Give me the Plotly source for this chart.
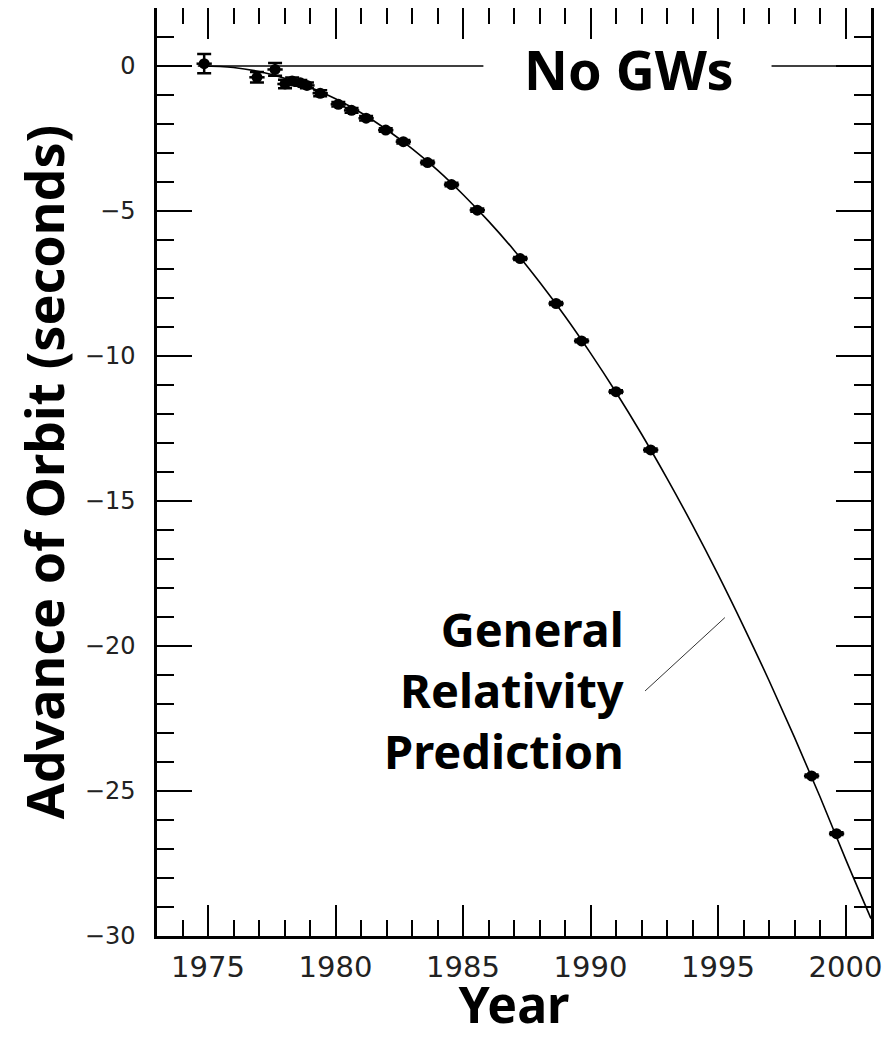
import plotly.graph_objects as go

# ---- data ----
# Observed cumulative shift of periastron time (seconds) vs year
OBS_YEAR = [1974.85, 1976.92, 1977.63, 1978.02, 1978.30, 1978.62, 1978.88, 1979.40,
            1980.11, 1980.63, 1981.20, 1981.97, 1982.66, 1983.61, 1984.55, 1985.56,
            1987.24, 1988.65, 1989.65, 1991.00, 1992.36, 1998.67, 1999.65]
OBS_SHIFT = [0.08, -0.39, -0.12, -0.62, -0.52, -0.58, -0.67, -0.94,
             -1.32, -1.53, -1.80, -2.21, -2.61, -3.33, -4.09, -4.97,
             -6.64, -8.19, -9.48, -11.23, -13.24, -24.48, -26.47]
OBS_ERR = [0.33, 0.18, 0.22, 0.15, 0.12, 0.10, 0.10, 0.10,
           0.08, 0.08, 0.08, 0.06, 0.06, 0.06, 0.06, 0.06,
           0.05, 0.05, 0.05, 0.05, 0.05, 0.05, 0.05]
OBS_XERR = [0.3] * len(OBS_YEAR)

# General Relativity prediction curve
GR_YEAR = [1974.7, 1976, 1977, 1978, 1979, 1980, 1981, 1982, 1983, 1984, 1985,
           1986, 1987, 1988, 1989, 1990, 1991, 1992, 1993, 1994, 1995, 1996,
           1997, 1998, 1999, 2000, 2001]
GR_SHIFT = [0.00, -0.05, -0.19, -0.42, -0.73, -1.13, -1.61, -2.19, -2.85, -3.59, -4.43,
            -5.35, -6.35, -7.45, -8.63, -9.90, -11.25, -12.69, -14.22, -15.83, -17.53, -19.32,
            -21.19, -23.15, -25.20, -27.34, -29.40]

# "No GWs" reference line (zero shift), interrupted by its label
NOGW_YEAR = [1974.6, 1985.8, None, 1997.1, 2001.0]
NOGW_SHIFT = [0, 0, None, 0, 0]

# pointer from the GR label to the curve
POINTER_YEAR = [1992.14, 1995.27]
POINTER_SHIFT = [-21.55, -19.02]

# label texts and their anchor positions (data units)
GR_LINES = ["General", "Relativity", "Prediction"]
GR_LABEL_YEAR = 1991.4
GR_LABEL_SHIFT = -21.52
NOGW_LABEL_YEAR = 1991.5
NOGW_LABEL_SHIFT = -0.1

X_RANGE = [1973, 2001]
Y_RANGE = [-30, 2]

TITLE_FONT = "Noto Sans"
TICK_FONT = "DejaVu Sans"

fig = go.Figure()

fig.add_trace(go.Scatter(
    x=NOGW_YEAR, y=NOGW_SHIFT, mode="lines",
    line=dict(color="black", width=1.6), hoverinfo="skip", showlegend=False))

fig.add_trace(go.Scatter(
    x=GR_YEAR, y=GR_SHIFT, mode="lines",
    line=dict(color="black", width=1.6, shape="spline"), showlegend=False))

fig.add_trace(go.Scatter(
    x=OBS_YEAR, y=OBS_SHIFT, mode="markers",
    marker=dict(color="black", size=11, symbol="circle"),
    error_y=dict(type="data", array=OBS_ERR, color="black", thickness=2.5, width=7),
    error_x=dict(type="data", array=OBS_XERR, color="black", thickness=2.5, width=0),
    showlegend=False))

fig.add_shape(type="line", xref="x", yref="y",
              x0=POINTER_YEAR[0], y0=POINTER_SHIFT[0],
              x1=POINTER_YEAR[1], y1=POINTER_SHIFT[1],
              line=dict(color="#333333", width=1))

fig.add_annotation(x=NOGW_LABEL_YEAR, y=NOGW_LABEL_SHIFT, xref="x", yref="y",
                   text="<b>No GWs</b>",
                   showarrow=False, xanchor="center", yanchor="middle",
                   font=dict(family=TITLE_FONT, size=54, color="black"))

fig.add_annotation(x=GR_LABEL_YEAR, y=GR_LABEL_SHIFT, xref="x", yref="y",
                   text="<b>" + "<br>".join(GR_LINES) + "</b>", showarrow=False,
                   xanchor="right", yanchor="middle", align="right",
                   font=dict(family=TITLE_FONT, size=47, color="black"))

axis_common = dict(
    showline=True, linewidth=2.5, linecolor="black", mirror="ticks",
    ticks="inside", tickcolor="black", tickwidth=2,
    showgrid=False, zeroline=False,
)

fig.update_xaxes(
    range=X_RANGE, tickmode="linear", tick0=1975, dtick=5, ticklen=31,
    minor=dict(dtick=1, tick0=1975, ticks="inside", ticklen=16, tickwidth=2,
               tickcolor="black", showgrid=False),
    tickfont=dict(family=TICK_FONT, size=29, color="#222222"),
    ticklabelstandoff=3,
    title=dict(text="<b>Year</b>", font=dict(family=TITLE_FONT, size=50, color="black"),
               standoff=0),
    **axis_common)

fig.update_yaxes(
    range=Y_RANGE, tickmode="linear", tick0=0, dtick=5, ticklen=35,
    minor=dict(dtick=1, tick0=0, ticks="inside", ticklen=17, tickwidth=2,
               tickcolor="black", showgrid=False),
    tickfont=dict(family=TICK_FONT, size=24, color="#222222"),
    ticklabelstandoff=14,
    title=dict(text="<b>Advance of Orbit (seconds)</b>",
               font=dict(family=TITLE_FONT, size=52, color="black"), standoff=12),
    **axis_common)

# the page body adds an 8px margin, so the figure is sized to fit inside it
fig.update_layout(
    width=888, height=1030,
    margin=dict(l=149, r=25, t=0, b=102, autoexpand=False),
    paper_bgcolor="white", plot_bgcolor="white",
    showlegend=False,
)

fig.write_html("out.html")
